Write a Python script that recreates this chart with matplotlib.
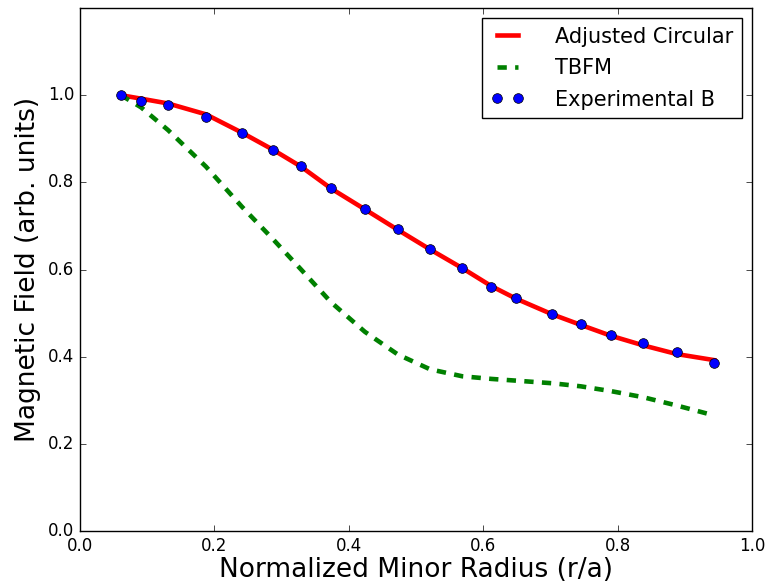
import matplotlib
matplotlib.use('Agg')
import matplotlib.pyplot as plt

# experimental points
r_exp = [0.061, 0.091, 0.131, 0.1875, 0.241, 0.287, 0.329, 0.3735, 0.424, 0.473,
         0.521, 0.569, 0.612, 0.649, 0.703, 0.745, 0.790, 0.838, 0.888, 0.944]
b_exp = [1.000, 0.986, 0.977, 0.950, 0.913, 0.874, 0.837, 0.787, 0.739, 0.692,
         0.646, 0.603, 0.561, 0.534, 0.498, 0.474, 0.450, 0.432, 0.410, 0.386]

# model curves
r_model = [0.061, 0.091, 0.131, 0.1875, 0.241, 0.287, 0.329, 0.3735, 0.424, 0.473,
           0.521, 0.569, 0.612, 0.649, 0.703, 0.745, 0.790, 0.838, 0.888, 0.944]
b_circ = [1.000, 0.992, 0.981, 0.956, 0.914, 0.875, 0.836, 0.786, 0.738, 0.691,
          0.646, 0.603, 0.562, 0.533, 0.497, 0.473, 0.448, 0.426, 0.406, 0.392]
b_tbfm = [1.000, 0.972, 0.920, 0.836, 0.744, 0.670, 0.600, 0.525, 0.457, 0.405,
          0.371, 0.355, 0.349, 0.345, 0.339, 0.332, 0.321, 0.307, 0.288, 0.265]

plt.style.use('classic')
plt.rcParams['font.family'] = ['DejaVu Sans']
plt.rcParams['lines.scale_dashes'] = False

fig = plt.figure(figsize=(7.72, 5.85), dpi=100, facecolor='white')
ax = fig.add_axes([0.1036, 0.0923, 0.8705, 0.894])

ax.plot(r_model, b_circ, color='red', lw=3.3, label='Adjusted Circular')
ax.plot(r_model, b_tbfm, color='green', lw=3.3, ls='--', dashes=(6.7, 6.0),
        label='TBFM')
ax.plot(r_exp, b_exp, 'o', color='blue', mec='black', ms=7, label='Experimental B')

ax.set_xlim(0, 1)
ax.set_ylim(0, 1.2)
ax.set_xticks([0.0, 0.2, 0.4, 0.6, 0.8, 1.0])
ax.set_yticks([0.0, 0.2, 0.4, 0.6, 0.8, 1.0])
ax.tick_params(labelsize=12)
ax.set_xlabel('Normalized Minor Radius (r/a)', fontsize=19, labelpad=2)
ax.set_ylabel('Magnetic Field (arb. units)', fontsize=19)
ax.legend(loc='upper right', fontsize=15, numpoints=2, handlelength=1.6,
          handletextpad=1.5, labelspacing=0.55)

fig.savefig('out.png', dpi=100, facecolor='white')
